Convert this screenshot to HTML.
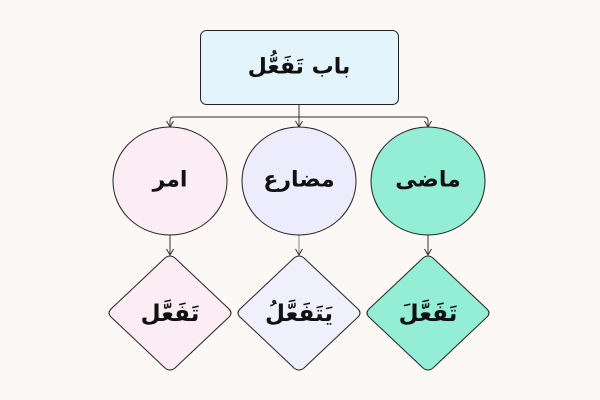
<!DOCTYPE html>
<html><head><meta charset="utf-8"><style>
html,body{margin:0;padding:0;background:#fbf8f6;}
svg{display:block}
text{font-family:"DejaVu Sans",sans-serif;font-weight:bold;fill:#111;text-anchor:middle;dominant-baseline:central}
</style></head><body>
<svg width="600" height="400" viewBox="0 0 600 400" xmlns="http://www.w3.org/2000/svg">
<defs><marker id="a" markerWidth="10" markerHeight="10" refX="7" refY="4" orient="auto" markerUnits="userSpaceOnUse"><path d="M1,0.5 L7,4 L1,7.5" fill="none" stroke="#333" stroke-width="1"/></marker></defs>
<rect width="600" height="400" fill="#fbf8f6"/>
<rect x="200.5" y="30.5" width="198" height="74" rx="6" fill="#e3f4fd" stroke="#222" stroke-width="1"/>
<text x="299" y="67" font-size="22">باب تَفَعُّل</text>
<g fill="none" stroke="#333" stroke-width="1">
<path d="M299,104 V127" marker-end="url(#a)"/>
<path d="M299,117 H174 Q170,117 170,121 V127" marker-end="url(#a)"/>
<path d="M299,117 H424 Q428,117 428,121 V127" marker-end="url(#a)"/>
<path d="M170,235 V255" marker-end="url(#a)"/>
<path d="M299,235 V255" stroke="#888" marker-end="url(#a)"/>
<path d="M428,235 V255" marker-end="url(#a)"/>
</g>
<ellipse cx="170" cy="181" rx="57" ry="54" fill="#fcedf4" stroke="#222"/>
<ellipse cx="299" cy="181" rx="57" ry="54" fill="#ececfd" stroke="#222"/>
<ellipse cx="428" cy="181" rx="57" ry="54" fill="#93eed5" stroke="#222"/>
<text x="170" y="180" font-size="22">امر</text>
<text x="299" y="180" font-size="22">مضارع</text>
<text x="428" y="180" font-size="22">ماضی</text>
<path d="M165,258 Q170,254 175,258 L229,309 Q233,313 229,317 L175,368 Q170,372 165,368 L111,317 Q107,313 111,309 Z" fill="#fcedf4" stroke="#222"/>
<path d="M294,258 Q299,254 304,258 L358,309 Q362,313 358,317 L304,368 Q299,372 294,368 L240,317 Q236,313 240,309 Z" fill="#f0f0fd" stroke="#222"/>
<path d="M423,258 Q428,254 433,258 L487,309 Q491,313 487,317 L433,368 Q428,372 423,368 L369,317 Q365,313 369,309 Z" fill="#93eed5" stroke="#222"/>
<text x="170" y="314" font-size="23">تَفَعَّل</text>
<text x="299" y="314" font-size="23">يَتَفَعَّلُ</text>
<text x="428" y="314" font-size="23">تَفَعَّلَ</text>
</svg>
</body></html>
